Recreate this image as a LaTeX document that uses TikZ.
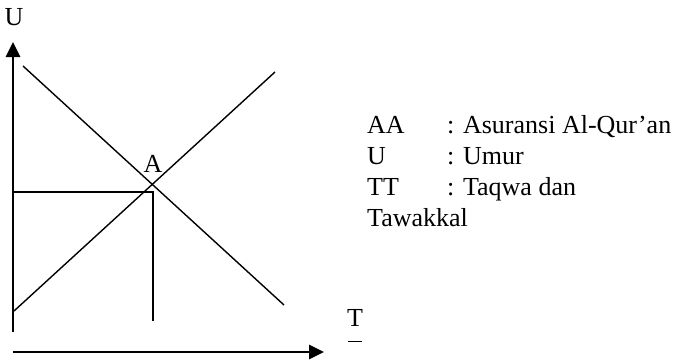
\documentclass[tikz,border=0pt]{standalone}
\usepackage{fontspec}
\setmainfont{Liberation Serif}
\usetikzlibrary{arrows.meta, calc, positioning}

\tikzset{
  eje/.style={line width=2.8pt, -{Triangle[length=15pt, width=14pt]}},
  kurva/.style={line width=1.4pt},
  teks/.style={font=\fontsize{26}{31}\selectfont, inner sep=0pt, anchor=base west}
}

\begin{document}
\begin{tikzpicture}[x=1pt, y=-1pt]
            \useasboundingbox (0,0) rectangle (678,362);

            % EJES
            \coordinate (origenU) at (13,332);
            \coordinate (puntaU) at (13,42);
            \coordinate (origenT) at (13,352);
            \coordinate (puntaT) at (324,352);
            \draw[eje] (origenU) -- (puntaU);
            \draw[eje] (origenT) -- (puntaT);
            \node[teks, anchor=base] (labU) at (14,25) {U};
            \node[teks, anchor=base] (labT) at (355,326) {T};
            \draw[line width=1pt] (348,341) -- (362,341);

            % RECTAS
            % Recta descendente
            \coordinate (bajaIni) at (23,66);
            \coordinate (bajaFin) at (284,305);
            \draw[kurva] (bajaIni) -- (bajaFin);
            % Recta ascendente
            \coordinate (subeIni) at (14,311);
            \coordinate (subeFin) at (275,72);
            \draw[kurva] (subeIni) -- (subeFin);

            % PUNTO A
            \node[teks, anchor=base] (labA) at (153,172) {A};
            \coordinate (esquina) at (153,192);
            \draw[kurva] (13,192) -- (esquina) -- (153,321);

            % LEYENDA
            \node[teks] (kAA) at (367,133) {AA};
            \node[teks] (dAA) at (447,133) {: Asuransi Al-Qur’an};
            \node[teks] (kU) at (367,164) {U};
            \node[teks] (dU) at (447,164) {: Umur};
            \node[teks] (kTT) at (367,195) {TT};
            \node[teks] (dTT) at (447,195) {: Taqwa dan};
            \node[teks] (kTaw) at (367,226) {Tawakkal};
        \end{tikzpicture}
\end{document}
